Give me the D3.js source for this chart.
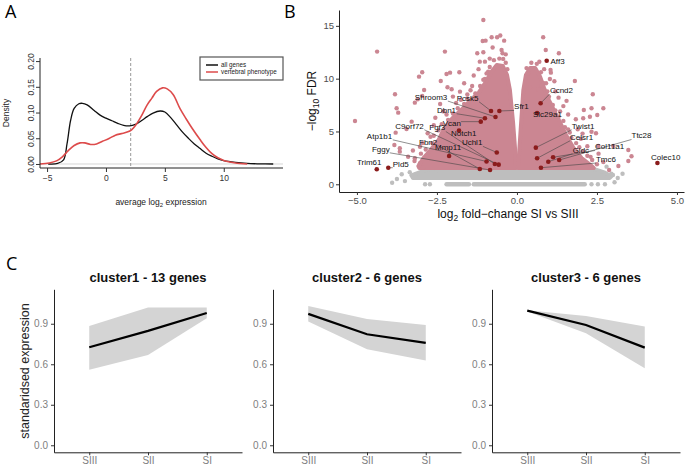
<!DOCTYPE html>
<html>
<head>
<meta charset="utf-8">
<script src="https://cdn.jsdelivr.net/npm/d3@7"></script>
<style>
  body { margin: 0; background: #fff; }
  text { font-family: "Liberation Sans", Arial, sans-serif; }
  .panelLetter { font-family: "Open Sans", "Liberation Sans", sans-serif; font-size: 18px; }
</style>
</head>
<body>
<svg id="fig" width="685" height="467"></svg>
<script>
// ---------- panel A : density of average log2 expression
const densTicksX = [-5, 0, 5, 10];
const densTicksY = [0, 0.05, 0.1, 0.15, 0.2];
const expressionCutoff = 2.1;
const densityAllGenes = [[-4.9,0],[-4.1,0.001],[-3.6,0.008],[-3.3,0.04],[-3.0,0.085],[-2.7,0.108],[-2.3,0.117],[-2.0,0.118],
  [-1.6,0.115],[-1,0.104],[-0.5,0.095],[0,0.089],[0.5,0.084],[1,0.079],[1.5,0.075],[2,0.074],[2.5,0.077],[3,0.084],
  [3.5,0.092],[4,0.099],[4.6,0.103],[5,0.101],[5.5,0.09],[6,0.076],[6.5,0.062],[7,0.05],[7.5,0.039],[8,0.03],
  [8.5,0.021],[9,0.015],[9.5,0.01],[10,0.0065],[11,0.003],[12,0.001],[13,0.0003],[14.2,0]];
const densityVertebral = [[-5.6,0],[-4.8,0.002],[-4.2,0.006],[-3.7,0.014],[-3.2,0.026],[-2.7,0.036],[-2.2,0.041],
  [-1.8,0.041],[-1.3,0.038],[-0.8,0.039],[-0.3,0.044],[0.3,0.05],[0.8,0.056],[1.3,0.059],[1.8,0.062],[2.2,0.067],
  [2.6,0.078],[3.0,0.093],[3.5,0.115],[3.9,0.128],[4.3,0.141],[4.8,0.148],[5.2,0.146],[5.7,0.135],[6.3,0.107],
  [6.8,0.088],[7.3,0.07],[8,0.047],[8.5,0.032],[9,0.02],[9.5,0.012],[10,0.007],[10.5,0.004],[11,0.002],[12,0]];
const densLegend = ['all genes', 'vertebral phenotype'];

// ---------- panel B : volcano plot
const volcanoTicksX = [-5, -2.5, 0, 2.5, 5];
const volcanoTicksY = [0, 5, 10, 15];
// outline of the dense significant cloud, [log2FC, -log10 FDR]
const cloudLeft = [[-0.03,1.54],[-0.04,2.61],[-0.12,5.8],[-0.22,8.93],[-0.31,10.35],[-0.44,11.2],[-0.63,11.3],
  [-0.81,10.6],[-0.97,9.7],[-1.19,8.7],[-1.47,7.9],[-1.72,7.1],[-2.03,6.2],[-2.28,5.25],[-2.45,4.19],
  [-2.7,3.25],[-2.92,2.49],[-3.08,1.73],[-3.05,1.54]];
const cloudRight = [[0.03,1.54],[0.06,2.61],[0.13,5.8],[0.2,8.93],[0.28,10.35],[0.41,11.0],[0.57,11.0],[0.72,10.2],
  [0.85,9.1],[1.0,7.98],[1.18,6.85],[1.37,5.71],[1.55,4.57],[1.77,3.44],[2.02,2.49],[2.3,1.83],[2.4,1.54]];
const cloudGrey = [[-3.3,0.85],[-2.9,1.3],[-2.4,1.6],[-1.8,1.75],[-0.8,1.8],[0,1.7],[0.9,1.8],[1.7,1.75],[2.3,1.55],
  [2.75,1.1],[2.95,0.75],[2.9,0.6],[2.3,0.6],[0,0.6],[-2.4,0.6],[-3.25,0.6]];
const greyZeroRow = [[-2.87,-2.87],[-2.72,-2.72],[-2.2,-1.5],[-1.35,2.12],[2.33,2.33],[2.53,2.53],[2.75,2.75]];
const sigPoints = [[-1.05,15.56],[-1.07,13.57],[-0.98,13.6],[-0.79,13.92],[-0.62,13.92],[-0.52,14.09],[-0.4,13.6],
  [-0.76,12.95],[-1.24,12.41],[-1.05,12.5],[-0.48,12.72],[-0.45,12.41],[-1.16,11.61],[-1.0,11.61],[-0.43,11.87],
  [0.82,13.92],[0.9,12.72],[1.31,12.41],[-2.25,12.56],[-2.09,10.57],[-2.2,10.44],[-1.8,10.61],[-1.65,9.56],
  [-0.9,10.66],[-1.0,9.97],[1.05,10.82],[1.06,10.57],[1.03,9.97],[1.17,9.75],[0.91,9.56],[0.77,9.34],[1.81,9.78],
  [0.41,9.19],[0.67,9.0],[-2.04,9.0],[-2.17,9.19],[-1.78,8.77],[-4.37,12.56],[-2.96,10.61],[-3.06,10.19],
  [-2.38,9.78],[-2.9,8.93],[-3.81,8.52],[-5.06,5.99],[-3.76,7.2],[-3.71,6.78],[-3.29,5.93],[-3.45,5.24],
  [-3.83,3.72],[-3.79,4.89],[-3.66,3.41],[-3.19,2.46],[-2.93,1.61],[-3.19,7.73],[-3.1,8.05],[-2.96,8.36],
  [2.37,8.52],[2.33,7.2],[2.09,7.04],[2.28,6.4],[1.84,6.16],[2.47,4.83],[2.54,3.63],[3.01,3.63],[3.48,3.25],
  [3.58,2.65],[3.48,2.21],[3.17,1.73],[2.88,1.35],[2.7,7.2],[2.51,6.56],[2.07,6.25],[2.33,4.98],[-2.79,4.83],
  [-3.66,3.09],[-3.03,3.56],[-2.82,2.61],[-3.03,1.99],[-3.4,2.61],[-1.4,9.3],[-1.55,8.5],[-1.9,7.7],[-2.3,6.9],
  [-2.6,5.6],[-2.55,6.3],[-2.7,4.5],[-2.95,3.9],[-3.25,3.2],[-1.35,10.3],[-1.2,10.9],[-0.85,11.9],[1.2,8.8],
  [1.45,7.4],[1.6,6.6],[1.9,5.2],[2.0,4.3],[2.2,3.6],[2.55,2.9],[2.7,2.1],[1.3,8.2],[0.85,10.9],[0.7,11.6],
  [1.55,7.9],[2.05,4.8],[2.3,2.6],[-0.35,12.3],[0.35,10.5],[-2.4,7.6],[-2.0,8.3],
  [-3.2,2.2],[-3.0,2.9],[-2.85,3.3],[-2.65,3.9],[-2.6,4.6],[-2.45,5.1],[-2.35,5.7],[-2.15,6.1],[-2.0,6.7],
  [-1.85,7.2],[-1.65,7.6],[-1.55,8.1],[-1.3,8.6],[-1.15,9.3],[-1.05,9.9],[-0.95,10.5],[-0.85,11.1],[-0.72,11.75],
  [-0.55,11.9],[-0.35,11.5],[-0.3,10.9],[-1.45,8.9],[-1.75,8.0],[-2.2,6.6],
  [2.5,1.9],[2.35,2.3],[2.2,2.7],[2.05,3.1],[1.95,3.5],[1.85,3.9],[1.7,4.4],[1.65,4.9],[1.5,5.4],[1.45,6.0],
  [1.3,6.4],[1.2,7.0],[1.12,7.5],[1.0,8.3],[0.95,8.8],[0.82,9.6],[0.75,10.6],[0.62,11.4],[0.45,11.5],[0.3,11.0],
  [1.6,5.2],[1.35,6.9]];
const nsPoints = [[-3.6,0.95],[-3.35,1.15],[-3.75,0.5],[-3.5,0.3],[2.95,1.0],[3.15,0.6],[3.05,0.2],[2.8,1.67],
  [3.0,0.88],[-2.51,1.29],[-3.9,0.15],[3.3,1.0]];
const geneNames = ['Aff3','Ccnd2','Slc29a1','Twist1','Celsr1','Gldc','Col11a1','Ttc28','Tmc6','Colec10',
  'Shroom3','Pcsk5','Sfr1','Dbn1','Vcan','Notch1','Uchl1','C9orf72','Fgf3','Atp1b1','Fbn2','Fggy','Mmp11','Trim61','Pld5'];
const geneFC = [0.93,0.74,0.63,0.59,0.63,0.98,1.13,1.32,0.75,4.39,
  -0.67,-0.81,-0.55,-1.0,-1.13,-1.81,-0.63,-0.57,-0.69,-0.95,-1.16,-0.84,-2.12,-4.38,-4.02];
const geneFDR = [11.7,7.67,6.75,3.47,2.46,2.14,2.56,2.3,1.57,2.02,
  6.37,6.94,6.94,6.25,5.93,5.09,3.01,1.86,1.92,2.16,1.45,1.35,2.68,1.42,1.57];
// where the repelled labels ended up (left edge of text, middle of text)
const labelFC = [1.05,1.03,0.5,1.71,1.66,1.74,2.44,3.58,2.47,4.19,
  -3.19,-1.88,-0.09,-2.5,-2.32,-2.06,-1.72,-3.8,-2.74,-4.69,-3.06,-4.53,-2.56,-5.0,-3.88];
const labelFDR = [11.7,8.93,6.66,5.52,4.48,3.25,3.56,4.6,2.37,2.61,
  8.24,8.17,7.35,7.04,5.78,4.8,3.95,5.52,5.36,4.57,4.03,3.34,3.5,2.05,1.89];

// ---------- panel C : cluster profiles
const stages = ['SIII', 'SII', 'SI'];
const clusterTitles = ['cluster1 - 13 genes', 'cluster2 - 6 genes', 'cluster3 - 6 genes'];
const clusterMean = [[0.726,0.847,0.98],[0.973,0.822,0.758],[0.997,0.891,0.723]];
const clusterLow  = [[0.56,0.669,0.94],[0.916,0.711,0.627],[0.99,0.83,0.57]];
const clusterHigh = [[0.884,1.02,1.02],[1.032,0.936,0.891],[1.0,0.958,0.879]];
const profileTicks = [0, 0.3, 0.6, 0.9];

const svg = d3.select('#fig');
const uminus = d => String(d).replace('-', '\u2212');

function styleAxis(sel, size, color) {
  sel.attr('font-family', '"Liberation Sans", Arial, sans-serif').attr('font-size', size);
  sel.selectAll('text').attr('fill', color);
  sel.selectAll('line').attr('stroke', '#333');
  sel.select('.domain').attr('stroke', '#222');
}

// ================= A =================
function drawDensity() {
  const x = d3.scaleLinear().domain([-5.6, 15.03]).range([40, 283]);
  const y = d3.scaleLinear().domain([-0.0078, 0.206]).range([168, 58]);
  const g = svg.append('g');

  g.append('line').attr('x1', 40).attr('x2', 283).attr('y1', y(0)).attr('y2', y(0))
    .attr('stroke', '#d6d6d6');
  g.append('line').attr('x1', x(expressionCutoff)).attr('x2', x(expressionCutoff))
    .attr('y1', 58).attr('y2', 168).attr('stroke', '#999').attr('stroke-dasharray', '3,2');

  const line = d3.line().x(d => x(d[0])).y(d => y(d[1])).curve(d3.curveCatmullRom);
  g.append('path').datum(densityAllGenes).attr('d', line)
    .attr('fill', 'none').attr('stroke', '#111').attr('stroke-width', 1.3);
  g.append('path').datum(densityVertebral).attr('d', line)
    .attr('fill', 'none').attr('stroke', '#dd4b4b').attr('stroke-width', 1.6);

  // L-shaped box
  g.append('path').attr('d', 'M40,58V168H283').attr('fill', 'none').attr('stroke', '#222');

  const xa = g.append('g').attr('transform', 'translate(0,168)')
    .call(d3.axisBottom(x).tickValues(densTicksX).tickSize(4).tickPadding(3).tickFormat(uminus));
  xa.select('.domain').remove();
  styleAxis(xa, 8.5, '#333');

  const ya = g.append('g').attr('transform', 'translate(40,0)')
    .call(d3.axisLeft(y).tickValues(densTicksY).tickSize(4).tickFormat(d3.format('.2f')));
  ya.select('.domain').remove();
  styleAxis(ya, 8.5, '#333');
  ya.selectAll('text').attr('transform', 'rotate(-90)').attr('x', 0).attr('y', -6)
    .attr('dy', 0).attr('text-anchor', 'middle');

  const xt = g.append('text').attr('x', 161).attr('y', 205).attr('text-anchor', 'middle')
    .attr('font-size', 8.5).attr('fill', '#222');
  xt.append('tspan').text('average log');
  xt.append('tspan').text('2').attr('font-size', 6).attr('dy', 2);
  xt.append('tspan').text(' expression').attr('dy', -2);

  g.append('text').attr('transform', 'translate(9,113) rotate(-90)').attr('text-anchor', 'middle')
    .attr('font-size', 8.5).attr('fill', '#222').text('Density');

  // legend
  const lg = g.append('g').attr('transform', 'translate(200,57)');
  lg.append('rect').attr('width', 83).attr('height', 23).attr('fill', '#fff')
    .attr('stroke', '#555').attr('stroke-width', 1.2);
  lg.selectAll('line.key').data(densLegend).enter().append('line')
    .attr('x1', 6).attr('x2', 18).attr('y1', (d, i) => 8 + i * 7).attr('y2', (d, i) => 8 + i * 7)
    .attr('stroke', (d, i) => i ? '#dd4b4b' : '#111').attr('stroke-width', 1.5);
  lg.selectAll('text').data(densLegend).enter().append('text')
    .attr('x', 21).attr('y', (d, i) => 10.3 + i * 7).attr('font-size', 6.3).attr('fill', '#222').text(d => d);

  svg.append('text').attr('class', 'panelLetter').attr('x', 5).attr('y', 18).text('A');
}

// ================= B =================
function drawVolcano() {
  const x = d3.scaleLinear().domain([-5.56, 5.22]).range([339, 684]);
  const y = d3.scaleLinear().domain([-0.73, 16.5]).range([192, 10]);
  const g = svg.append('g');
  const pink = '#cb8692', grey = '#bebebe', dark = '#8b1c1c';
  const poly = d3.line().x(d => x(d[0])).y(d => y(d[1])).curve(d3.curveLinearClosed);

  g.append('path').datum(cloudGrey).attr('d', poly).attr('fill', grey)
    .attr('stroke', grey).attr('stroke-width', 4).attr('stroke-linejoin', 'round');
  g.selectAll('line.zero').data(greyZeroRow).enter().append('line')
    .attr('x1', d => x(d[0])).attr('x2', d => x(d[1])).attr('y1', y(0)).attr('y2', y(0))
    .attr('stroke', grey).attr('stroke-width', 4.4).attr('stroke-linecap', 'round');
  g.selectAll('circle.ns').data(nsPoints).enter().append('circle')
    .attr('cx', d => x(d[0])).attr('cy', d => y(d[1])).attr('r', 2.2).attr('fill', grey);

  [cloudLeft, cloudRight].forEach(c => {
    g.append('path').datum(c).attr('d', poly).attr('fill', pink)
      .attr('stroke', pink).attr('stroke-width', 4).attr('stroke-linejoin', 'round');
  });
  g.selectAll('circle.sig').data(sigPoints).enter().append('circle')
    .attr('cx', d => x(d[0])).attr('cy', d => y(d[1])).attr('r', 2.2).attr('fill', pink);

  const genes = geneNames.map((n, i) => ({name: n, fc: geneFC[i], fdr: geneFDR[i], lx: labelFC[i], ly: labelFDR[i]}));

  const segLayer = g.append('g');
  g.selectAll('circle.gene').data(genes).enter().append('circle')
    .attr('cx', d => x(d.fc)).attr('cy', d => y(d.fdr)).attr('r', 2.3).attr('fill', dark);
  const labels = g.selectAll('text.gene').data(genes).enter().append('text')
    .attr('x', d => x(d.lx)).attr('y', d => y(d.ly)).attr('dy', '0.35em')
    .attr('font-size', 8).attr('fill', '#111').text(d => d.name);

  // ggrepel-like connector from the label box to its point
  labels.each(function (d) {
    const b = this.getBBox();
    const px = x(d.fc), py = y(d.fdr);
    const cx = Math.max(b.x, Math.min(px, b.x + b.width));
    const cy = Math.max(b.y + 1, Math.min(py, b.y + b.height - 1));
    if (Math.hypot(px - cx, py - cy) > 4) {
      segLayer.append('line').attr('x1', cx).attr('y1', cy).attr('x2', px).attr('y2', py)
        .attr('stroke', '#444').attr('stroke-width', 0.6);
    }
  });

  const xa = g.append('g').attr('transform', 'translate(0,192)')
    .call(d3.axisBottom(x).tickValues(volcanoTicksX).tickSize(3).tickSizeOuter(0).tickPadding(2)
      .tickFormat(d3.format('.1f')));
  styleAxis(xa, 9.5, '#4d4d4d');
  const ya = g.append('g').attr('transform', 'translate(339,0)')
    .call(d3.axisLeft(y).tickValues(volcanoTicksY).tickSize(3).tickSizeOuter(0).tickPadding(2));
  styleAxis(ya, 9.5, '#4d4d4d');

  const xt = g.append('text').attr('x', 508).attr('y', 218).attr('text-anchor', 'middle')
    .attr('font-size', 12).attr('fill', '#111');
  xt.append('tspan').text('log');
  xt.append('tspan').text('2').attr('font-size', 8.5).attr('dy', 3);
  xt.append('tspan').text(' fold\u2212change SI vs SIII').attr('dy', -3);

  const yt = g.append('text').attr('transform', 'translate(316,101) rotate(-90)').attr('text-anchor', 'middle')
    .attr('font-size', 12).attr('fill', '#111');
  yt.append('tspan').text('\u2212log');
  yt.append('tspan').text('10').attr('font-size', 8.5).attr('dy', 3);
  yt.append('tspan').text(' FDR').attr('dy', -3);

  svg.append('text').attr('class', 'panelLetter').attr('x', 284).attr('y', 18).text('B');
}

// ================= C =================
function drawProfiles() {
  const left = [54, 273, 492], w = 188;
  const y = d3.scaleLinear().domain([-0.052, 1.155]).range([452.3, 289.3]);

  clusterTitles.forEach((title, k) => {
    const x = d3.scalePoint().domain(stages).range([left[k], left[k] + w]).padding(0.6);
    const g = svg.append('g');
    const pts = stages.map((s, i) => ({s, m: clusterMean[k][i], lo: clusterLow[k][i], hi: clusterHigh[k][i]}));

    g.append('path').datum(pts)
      .attr('d', d3.area().x(d => x(d.s)).y0(d => y(d.lo)).y1(d => y(d.hi)))
      .attr('fill', '#d4d4d4');
    g.append('path').datum(pts)
      .attr('d', d3.line().x(d => x(d.s)).y(d => y(d.m)))
      .attr('fill', 'none').attr('stroke', '#000').attr('stroke-width', 2.2);

    const xa = g.append('g').attr('transform', 'translate(0,452.3)')
      .call(d3.axisBottom(x).tickSize(3).tickSizeOuter(0).tickPadding(2));
    styleAxis(xa, 10, '#808080');
    const ya = g.append('g').attr('transform', `translate(${left[k]},0)`)
      .call(d3.axisLeft(y).tickValues(profileTicks).tickSize(3).tickSizeOuter(0).tickPadding(3)
        .tickFormat(d3.format('.1f')));
    styleAxis(ya, 10, '#808080');

    g.append('text').attr('x', left[k] + w / 2).attr('y', 281.5).attr('text-anchor', 'middle')
      .attr('font-size', 13).attr('font-weight', 'bold').attr('fill', '#111').text(title);
  });

  svg.append('text').attr('transform', 'translate(29,371) rotate(-90)').attr('text-anchor', 'middle')
    .attr('font-size', 12.5).attr('fill', '#222').text('standaridsed expression');

  svg.append('text').attr('class', 'panelLetter').attr('x', 6).attr('y', 270).text('C');
}

drawDensity();
drawVolcano();
drawProfiles();
</script>
</body>
</html>
